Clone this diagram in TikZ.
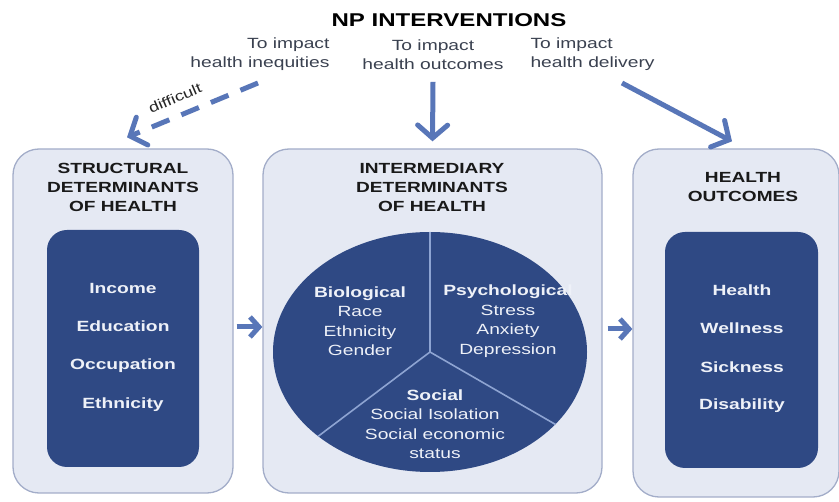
\documentclass[tikz,border=0pt]{standalone}
\usepackage{fontspec}
\setmainfont{Liberation Sans}[FakeStretch=1.3]
\usetikzlibrary{arrows.meta,shapes.geometric}

\definecolor{arrowblue}{HTML}{5876B8}
\definecolor{boxfill}{HTML}{E5E9F3}
\definecolor{boxborder}{HTML}{A3ADC9}
\definecolor{navy}{HTML}{2F4984}
\definecolor{pieline}{HTML}{8EA4D2}
\definecolor{itemtext}{HTML}{EEF1F8}
\definecolor{subtext}{HTML}{3A4150}

\tikzset{
  outerbox/.style={draw=boxborder, line width=1.3pt, fill=boxfill,
    rounded corners=26pt, inner sep=0pt},
  innerbox/.style={fill=navy, rounded corners=20pt, inner sep=0pt},
  boxtitle/.style={align=center, text=black!90,
    font=\fontsize{14.7}{19}\selectfont\bfseries},
  item/.style={text=itemtext, font=\fontsize{14.8}{18}\selectfont\bfseries},
  pietext/.style={align=center, text=itemtext,
    font=\fontsize{14.8}{19.5}\selectfont},
  subtitle/.style={text=subtext, font=\fontsize{14.8}{19}\selectfont},
  bigarrow/.style={draw=arrowblue, line width=5pt,
    -{Straight Barb[length=13pt,width=30pt,line cap=round]}},
  linkarrow/.style={draw=arrowblue, line width=5pt,
    -{Straight Barb[length=9pt,width=20pt]}},
}

\begin{document}
\begin{tikzpicture}[x=1pt, y=-1pt]
\useasboundingbox[fill=white] (0,0) rectangle (839,502);

% heading and the three intervention aims
\node[font=\fontsize{18.5}{22}\selectfont\bfseries] (head) at (449,20) {NP INTERVENTIONS};
\node[subtitle, align=right, anchor=east] (aim1) at (333,54.5) {To impact\\health inequities};
\node[subtitle, align=center] (aim2) at (433,54.5) {To impact\\health outcomes};
\node[subtitle, align=left, anchor=west] (aim3) at (527,54.5) {To impact\\health delivery};

% the three columns
\node[outerbox, minimum width=220pt, minimum height=344pt] (struct) at (123,321) {};
\node[outerbox, minimum width=339pt, minimum height=344pt] (inter) at (432.5,321) {};
\node[outerbox, minimum width=206pt, minimum height=348pt] (outc) at (736,323) {};

\node[boxtitle] (structT) at (123,187.5) {STRUCTURAL\\DETERMINANTS\\OF HEALTH};
\node[boxtitle] (interT) at (432,187.5) {INTERMEDIARY\\DETERMINANTS\\OF HEALTH};
\node[boxtitle] (outcT) at (743,187) {HEALTH\\OUTCOMES};

% structural determinants
\node[innerbox, minimum width=152pt, minimum height=237pt] (structIn) at (123,348.5) {};
\node[item] (income) at (123,288) {Income};
\node[item] (educ) at (123,326.5) {Education};
\node[item] (occup) at (123,365.5) {Occupation};
\node[item] (ethn) at (123,405) {Ethnicity};

% health outcomes
\node[innerbox, minimum width=153pt, minimum height=236pt] (outcIn) at (741.5,350) {};
\node[item] (health) at (742,290) {Health};
\node[item] (well) at (742,328.5) {Wellness};
\node[item] (sick) at (742,367) {Sickness};
\node[item] (disab) at (742,406) {Disability};

% intermediary determinants: three-part pie
\node[ellipse, fill=navy, minimum width=314pt, minimum height=240pt, inner sep=0pt] (pie) at (430,352) {};
\draw[pieline, line width=1.6pt] (pie.center) -- (pie.90);
\draw[pieline, line width=1.6pt] (pie.center) -- (pie.217.8);
\draw[pieline, line width=1.6pt] (pie.center) -- (pie.330.8);
\node[pietext] (bio) at (360,321) {\textbf{Biological}\\Race\\Ethnicity\\Gender};
\node[pietext] (psy) at (508,321) {\textbf{Psychological}\\Stress\\Anxiety\\Depression};
\node[pietext] (soc) at (435,424) {\textbf{Social}\\Social Isolation\\Social economic\\status};

% arrows from the aims to the columns
\coordinate (dashStart) at (258,83);
\coordinate (diagStart) at (622,83);
\draw[bigarrow, dash pattern=on 19pt off 13pt] (dashStart) -- ([xshift=4pt,yshift=11pt]struct.north);
\node[font=\fontsize{14}{16}\selectfont, text=black!85, rotate=23, inner sep=0pt] (hard) at (175,98) {difficult};
\draw[bigarrow] ([yshift=-9pt]aim2.south) -- ([yshift=7pt]inter.north);
\draw[bigarrow] (diagStart) -- ([xshift=-4pt,yshift=7pt]outc.north);

% arrows between the columns
\draw[linkarrow, shorten <=3pt] ([yshift=-6pt]struct.east) -- ([yshift=-6pt]inter.west);
\draw[linkarrow, shorten <=5pt] ([yshift=-8pt]inter.east) -- ([yshift=-6pt]outc.west);
\end{tikzpicture}
\end{document}
